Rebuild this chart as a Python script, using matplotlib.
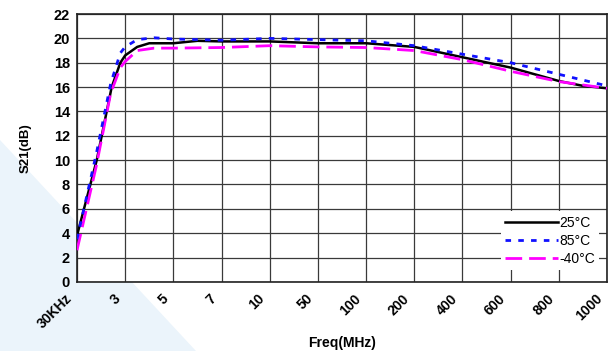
import numpy as np
import matplotlib.pyplot as plt
import matplotlib.transforms as mtransforms
from matplotlib.patches import Polygon

plt.rcParams['font.family'] = ['Liberation Sans', 'DejaVu Sans']

# category ticks (equally spaced on the chart)
tick_labels = ["30KHz", "3", "5", "7", "10", "50", "100", "200", "400", "600", "800", "1000"]

# x positions are in tick-index units (0 = 30KHz ... 11 = 1000)
x_25 = [0, 0.41, 0.72, 0.9, 1.0, 1.25, 1.5, 2, 2.5, 3, 4, 5, 6, 7, 8, 9, 10, 10.5, 11]
y_25 = [3.8, 10, 16, 18, 18.6, 19.3, 19.6, 19.6, 19.8, 19.75, 19.75, 19.6, 19.6, 19.3, 18.45, 17.6, 16.5, 16.1, 15.9]

x_85 = [0, 0.4, 0.7, 0.9, 1.0, 1.25, 1.6, 2, 3, 4, 5, 6, 7, 8, 9, 10, 11]
y_85 = [3.5, 10.5, 16.3, 18.8, 19.3, 19.9, 20.05, 19.95, 19.85, 20.0, 19.9, 19.8, 19.4, 18.7, 18.0, 17.05, 16.1]

x_m40 = [0, 0.4, 0.7, 0.9, 1.0, 1.25, 1.6, 2, 3, 4, 5, 6, 7, 8, 9, 10, 11]
y_m40 = [2.6, 9.5, 15.5, 17.6, 18.1, 19.0, 19.2, 19.2, 19.25, 19.4, 19.3, 19.25, 19.0, 18.25, 17.3, 16.45, 15.9]

fig = plt.figure(figsize=(6.11, 3.51), dpi=100)
# faint watermark triangle in the lower left, behind the axes
fig.patches.append(Polygon([(0, 0.60), (0, 0), (0.32, 0)], closed=True,
                           transform=fig.transFigure, facecolor='#ebf4fb',
                           edgecolor='none', zorder=-5))

ax = fig.add_axes([0.126, 0.197, 0.8675, 0.763])
ax.set_facecolor('white')

ax.plot(x_25, y_25, color='black', lw=1.8, label='25°C', zorder=3)
ax.plot(x_85, y_85, color='#1010ff', lw=2, dashes=(2, 2.6), label='85°C', zorder=4)
ax.plot(x_m40, y_m40, color='#ff00ff', lw=2, dashes=(6, 2.5), label='-40°C', zorder=3)

ax.set_xlim(0, 11)
ax.set_ylim(0, 22)
ax.set_xticks(range(len(tick_labels)))
ax.set_yticks(range(0, 23, 2))
ax.tick_params(length=0, pad=5)
ax.tick_params(axis='x', pad=7)
ax.set_xticklabels(tick_labels, rotation=45, ha='right', rotation_mode='anchor',
                   fontsize=10, fontweight='bold')
ax.set_yticklabels([str(v) for v in range(0, 23, 2)], fontsize=10.5, fontweight='bold')
# nudge the rotated labels left so they sit under/left of their ticks
shift = mtransforms.ScaledTranslation(-12 / 100, 0, fig.dpi_scale_trans)
for lbl in ax.get_xticklabels():
    lbl.set_transform(lbl.get_transform() + shift)

ax.grid(True, color='#3a3a3a', lw=0.9)
ax.set_axisbelow(True)
for s in ax.spines.values():
    s.set_color('#222222')
    s.set_linewidth(1.2)

ax.set_ylabel("S21(dB)", fontsize=9.5, fontweight='bold', labelpad=16)
ax.set_xlabel("Freq(MHz)", fontsize=10, fontweight='bold', labelpad=3)

leg = ax.legend(loc='lower right', bbox_to_anchor=(0.998, 0.018), fontsize=10,
                frameon=True, handlelength=3.8, handletextpad=0.1,
                labelspacing=0.3, borderpad=0.3, fancybox=False)
leg.get_frame().set_edgecolor('none')
leg.get_frame().set_facecolor('white')
leg.get_frame().set_alpha(1)

fig.savefig("out.png", dpi=100)
